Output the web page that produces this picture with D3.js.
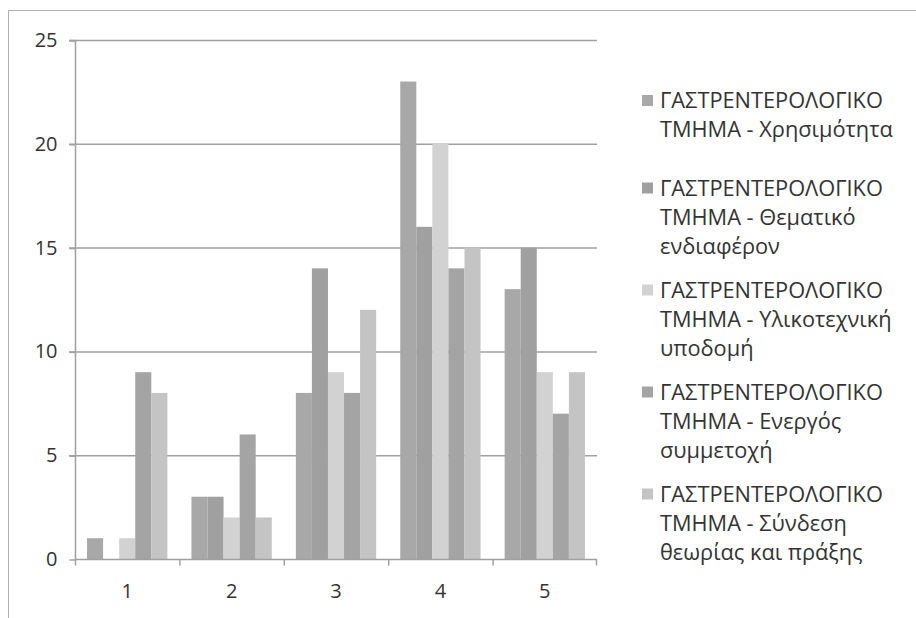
<!DOCTYPE html>
<html><head><meta charset="utf-8">
<script src="https://cdn.jsdelivr.net/npm/d3@7"></script>
<style>body{margin:0;background:#fff;} svg{display:block;}</style>
</head><body>
<svg id="c" width="916" height="618"></svg>
<script>
const categories = ["1","2","3","4","5"];
const seriesNames = [
  "ΓΑΣΤΡΕΝΤΕΡΟΛΟΓΙΚΟ ΤΜΗΜΑ - Χρησιμότητα",
  "ΓΑΣΤΡΕΝΤΕΡΟΛΟΓΙΚΟ ΤΜΗΜΑ - Θεματικό ενδιαφέρον",
  "ΓΑΣΤΡΕΝΤΕΡΟΛΟΓΙΚΟ ΤΜΗΜΑ - Υλικοτεχνική υποδομή",
  "ΓΑΣΤΡΕΝΤΕΡΟΛΟΓΙΚΟ ΤΜΗΜΑ - Ενεργός συμμετοχή",
  "ΓΑΣΤΡΕΝΤΕΡΟΛΟΓΙΚΟ ΤΜΗΜΑ - Σύνδεση θεωρίας και πράξης"
];
const legendLines = [
  ["ΓΑΣΤΡΕΝΤΕΡΟΛΟΓΙΚΟ","ΤΜΗΜΑ - Χρησιμότητα"],
  ["ΓΑΣΤΡΕΝΤΕΡΟΛΟΓΙΚΟ","ΤΜΗΜΑ - Θεματικό","ενδιαφέρον"],
  ["ΓΑΣΤΡΕΝΤΕΡΟΛΟΓΙΚΟ","ΤΜΗΜΑ - Υλικοτεχνική","υποδομή"],
  ["ΓΑΣΤΡΕΝΤΕΡΟΛΟΓΙΚΟ","ΤΜΗΜΑ - Ενεργός","συμμετοχή"],
  ["ΓΑΣΤΡΕΝΤΕΡΟΛΟΓΙΚΟ","ΤΜΗΜΑ - Σύνδεση","θεωρίας και πράξης"]
];
const usefulness   = [1, 3, 8, 23, 13];
const interest     = [0, 3, 14, 16, 15];
const infra        = [1, 2, 9, 20, 9];
const participation= [9, 6, 8, 14, 7];
const theory       = [8, 2, 12, 15, 9];
const seriesValues = [usefulness, interest, infra, participation, theory];
const yTicks = [0, 5, 10, 15, 20, 25];
const colors = ["#a8a8a8", "#a0a0a0", "#d2d2d2", "#a4a4a4", "#c4c4c4"];

const svg = d3.select("#c");
const font = "'Open Sans', 'Noto Sans', sans-serif";
const textCol = "#333333";
const gridCol = "#a0a0a0";

// frame
svg.append("path").attr("d", "M8.5,618 L8.5,10.5 L916,10.5")
  .attr("fill","none").attr("stroke","#b0b0b0").attr("stroke-width",1);

const x0 = 75, x1 = 597, yTop = 40, yBot = 559;
const x = d3.scaleBand().domain(categories).range([x0, x1]).padding(0);
const xs = d3.scaleBand().domain(d3.range(5)).range([0, x.bandwidth()]).paddingInner(0).paddingOuter(0.75);
const y = d3.scaleLinear().domain([0, 25]).range([yBot, yTop]);

// gridlines
svg.append("g").selectAll("line").data(yTicks.filter(t=>t>0)).join("line")
  .attr("x1", x0 - 6).attr("x2", x1).attr("y1", d=>y(d)+0.5).attr("y2", d=>y(d)+0.5)
  .attr("stroke", gridCol).attr("stroke-width", 1.5);

// bars
const g = svg.append("g");
seriesValues.forEach((vals, si) => {
  g.append("g").selectAll("rect").data(vals).join("rect")
    .attr("x", (d,i)=> x(categories[i]) + xs(si))
    .attr("width", xs.bandwidth())
    .attr("y", d=> y(d))
    .attr("height", d=> yBot - y(d))
    .attr("fill", colors[si]);
});

// y axis
const yAxis = d3.axisLeft(y).tickValues(yTicks).tickSize(6).tickPadding(12).tickFormat(d3.format("d"));
const ya = svg.append("g").attr("transform", `translate(${x0+0.5},0)`).call(yAxis);
ya.select(".domain").attr("stroke", gridCol).attr("stroke-width",1.5).attr("d", `M-6,${yTop+0.5}H0V${yBot+0.5}`);
ya.selectAll(".tick line").attr("stroke", gridCol).attr("stroke-width",1.5).attr("transform","translate(0,0.5)");
ya.selectAll(".tick text").attr("font-family", font).attr("font-size", 20).attr("fill", textCol);

// x axis
const xAxis = d3.axisBottom(x).tickSize(0).tickPadding(24);
const xa = svg.append("g").attr("transform", `translate(0,${yBot+0.5})`).call(xAxis);
xa.select(".domain").attr("stroke", gridCol).attr("stroke-width",1.5).attr("d", `M${x0},0H${x1}`);
xa.selectAll(".tick text").attr("font-family", font).attr("font-size", 20).attr("fill", textCol);
// category boundary ticks
xa.append("g").selectAll("line").data(categories.concat(["end"])).join("line")
  .attr("x1", (d,i)=> i < 5 ? x(d)+0.5 : x1-0.5).attr("x2", (d,i)=> i < 5 ? x(d)+0.5 : x1-0.5)
  .attr("y1", 0).attr("y2", 6).attr("stroke", gridCol).attr("stroke-width",1.5);

// legend
const leg = svg.append("g");
const centers = [115, 217, 319, 421, 523];
const lh = 29;
const fs = 21.5;
const texts = [];
legendLines.forEach((lines, si) => {
  const first = centers[si] - (lines.length-1)*lh/2;
  leg.append("rect").attr("x", 642).attr("y", first-5.5).attr("width", 11).attr("height", 11).attr("fill", colors[si]);
  const t = leg.append("text").attr("font-family", font).attr("font-size", fs).attr("fill", textCol);
  lines.forEach((ln, li) => {
    t.append("tspan").attr("x", 0).attr("y", first + li*lh).attr("dy", "0.36em").text(ln);
  });
  texts.push(t);
});
// compress horizontally so the upper-case line spans ~223px (Calibri-like proportions)
const w = texts[0].select("tspan").node().getComputedTextLength();
const sx = 223 / w;
texts.forEach(t => t.attr("transform", `translate(660,0) scale(${sx.toFixed(4)},1)`));
</script>
</body></html>
